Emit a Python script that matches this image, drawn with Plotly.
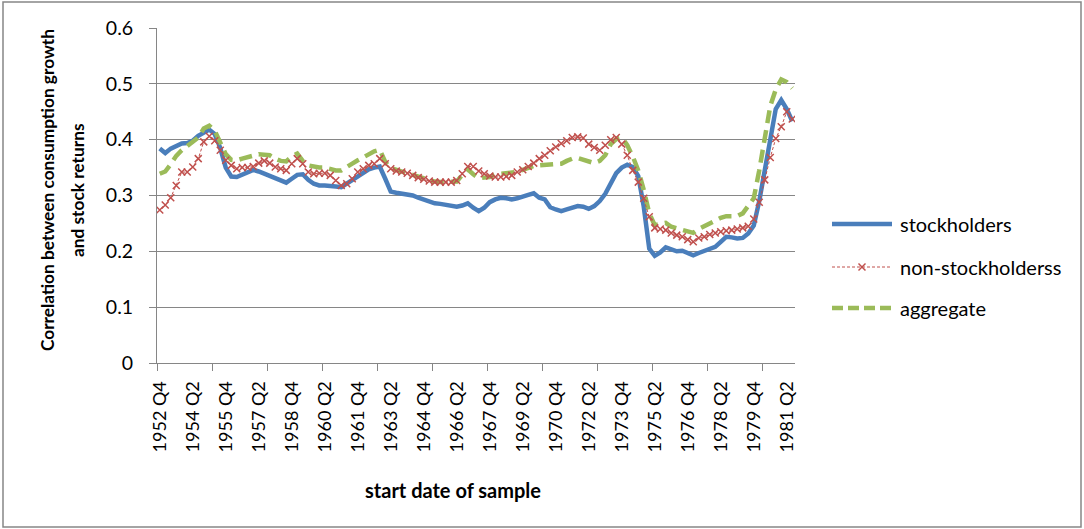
import plotly.graph_objects as go

# Quarterly start dates of the rolling samples: 1952 Q4 .. 1981 Q3
quarters = []
yr, qt = 1952, 4
for _ in range(116):
    quarters.append(f"{yr} Q{qt}")
    qt += 1
    if qt > 4:
        qt = 1
        yr += 1

stockholders = [
    0.384, 0.376, 0.384, 0.389, 0.393, 0.394, 0.398, 0.407, 0.413, 0.418,
    0.410, 0.385, 0.350, 0.334, 0.333, 0.338, 0.343, 0.346, 0.343, 0.339,
    0.334, 0.331, 0.327, 0.323, 0.330, 0.337, 0.338, 0.328, 0.321, 0.318,
    0.318, 0.318, 0.316, 0.315, 0.321, 0.328, 0.334, 0.340, 0.347, 0.350,
    0.352, 0.330, 0.307, 0.305, 0.304, 0.302, 0.300, 0.296, 0.292, 0.289,
    0.286, 0.285, 0.283, 0.281, 0.280, 0.282, 0.286, 0.278, 0.272, 0.278,
    0.288, 0.293, 0.296, 0.295, 0.293, 0.295, 0.297, 0.301, 0.304, 0.296,
    0.293, 0.279, 0.275, 0.272, 0.275, 0.279, 0.281, 0.280, 0.276, 0.281,
    0.290, 0.303, 0.322, 0.340, 0.350, 0.355, 0.351, 0.335, 0.280, 0.205,
    0.192, 0.198, 0.207, 0.203, 0.200, 0.201, 0.197, 0.193, 0.197, 0.200,
    0.203, 0.208, 0.217, 0.226, 0.225, 0.223, 0.224, 0.232, 0.246, 0.290,
    0.345, 0.405, 0.455, 0.471, 0.455, 0.433,
]

non_stockholders = [
    0.274, 0.283, 0.296, 0.318, 0.342, 0.342, 0.351, 0.366, 0.396, 0.406,
    0.398, 0.381, 0.363, 0.354, 0.348, 0.350, 0.350, 0.352, 0.358, 0.362,
    0.358, 0.351, 0.348, 0.345, 0.357, 0.366, 0.357, 0.342, 0.339, 0.340,
    0.340, 0.336, 0.327, 0.318, 0.321, 0.330, 0.342, 0.348, 0.354, 0.357,
    0.366, 0.357, 0.348, 0.344, 0.342, 0.340, 0.336, 0.332, 0.329, 0.326,
    0.324, 0.324, 0.324, 0.324, 0.327, 0.339, 0.352, 0.352, 0.344, 0.339,
    0.335, 0.333, 0.333, 0.334, 0.336, 0.342, 0.346, 0.352, 0.358, 0.366,
    0.372, 0.380, 0.387, 0.393, 0.398, 0.404, 0.405, 0.403, 0.392, 0.386,
    0.381, 0.390, 0.400, 0.404, 0.392, 0.372, 0.345, 0.324, 0.295, 0.262,
    0.242, 0.240, 0.238, 0.233, 0.229, 0.226, 0.221, 0.217, 0.224, 0.226,
    0.230, 0.233, 0.235, 0.237, 0.238, 0.240, 0.242, 0.245, 0.258, 0.288,
    0.328, 0.368, 0.402, 0.423, 0.450, 0.437,
]

aggregate = [
    0.339, 0.343, 0.356, 0.371, 0.381, 0.388, 0.395, 0.404, 0.420, 0.425,
    0.416, 0.395, 0.374, 0.364, 0.363, 0.366, 0.369, 0.372, 0.374, 0.373,
    0.372, 0.366, 0.362, 0.361, 0.370, 0.375, 0.362, 0.354, 0.351, 0.350,
    0.350, 0.347, 0.345, 0.345, 0.350, 0.357, 0.363, 0.369, 0.374, 0.379,
    0.382, 0.360, 0.349, 0.346, 0.343, 0.341, 0.338, 0.334, 0.330, 0.327,
    0.325, 0.324, 0.324, 0.324, 0.325, 0.337, 0.347, 0.338, 0.331, 0.332,
    0.333, 0.338, 0.339, 0.338, 0.340, 0.342, 0.346, 0.350, 0.353, 0.354,
    0.355, 0.355, 0.356, 0.357, 0.362, 0.366, 0.367, 0.364, 0.361, 0.358,
    0.362, 0.372, 0.392, 0.401, 0.404, 0.390, 0.370, 0.345, 0.310, 0.268,
    0.247, 0.250, 0.251, 0.244, 0.241, 0.238, 0.235, 0.233, 0.240, 0.245,
    0.250, 0.256, 0.260, 0.263, 0.264, 0.263, 0.268, 0.282, 0.295, 0.345,
    0.405, 0.460, 0.490, 0.508, 0.503, 0.492,
]

series_names = ["stockholders", "non-stockholderss", "aggregate"]
y_ticks = [0, 0.1, 0.2, 0.3, 0.4, 0.5, 0.6]

BLUE = "#4A7EBB"
RED = "#C0504D"
GREEN = "#9BBB59"
GRID = "#868686"
FONT = "Lato"

x_idx = list(range(len(quarters)))
label_idx = x_idx[::6]

# Canvas / plot-area geometry (pixels)
W, H = 1084, 529
L, R, T, B = 157, 289, 28, 166
PW, PH = W - L - R, H - T - B


def px(x):
    return (x - L) / PW


def py(y):
    return (H - B - y) / PH


fig = go.Figure()
fig.add_trace(go.Scatter(
    x=x_idx, y=stockholders, name=series_names[0], mode="lines",
    line=dict(color=BLUE, width=4.5), showlegend=False))
fig.add_trace(go.Scatter(
    x=x_idx, y=aggregate, name=series_names[2], mode="lines",
    line=dict(color=GREEN, width=4.5, dash="13px,7px"), showlegend=False))
fig.add_trace(go.Scatter(
    x=x_idx, y=non_stockholders, name=series_names[1], mode="lines+markers",
    line=dict(color=RED, width=1, dash="3px,2px"),
    marker=dict(symbol="x-thin", size=7, line=dict(color=RED, width=1.5)),
    showlegend=False))

fig.update_xaxes(
    range=[-0.5, len(quarters) - 0.5],
    tickmode="array", tickvals=label_idx, ticktext=[quarters[i] for i in label_idx],
    tickangle=-90, ticks="outside", ticklen=7, tickcolor="rgba(0,0,0,0)",
    ticklabelstandoff=3,
    showgrid=False, zeroline=False, showline=True, linecolor=GRID, linewidth=1,
    minor=dict(tickmode="linear", tick0=-0.5, dtick=10, ticks="outside",
               ticklen=7, tickcolor=GRID, tickwidth=1, showgrid=False),
    tickfont=dict(family=FONT, size=18, color="#000000"),
)
fig.update_yaxes(
    range=[0, 0.6], tickmode="array", tickvals=y_ticks,
    ticktext=[f"{v:g}" for v in y_ticks],
    ticks="outside", ticklen=7, tickcolor=GRID, tickwidth=1,
    ticklabelstandoff=12,
    showgrid=True, gridcolor=GRID, gridwidth=1, zeroline=False,
    showline=True, linecolor=GRID, linewidth=1,
    tickfont=dict(family=FONT, size=19.5, color="#000000"),
)

shapes = [
    # chart frame
    dict(type="rect", xref="paper", yref="paper",
         x0=px(3), x1=px(1081), y0=py(527), y1=py(2),
         line=dict(color=GRID, width=1.5), fillcolor="rgba(0,0,0,0)", layer="below"),
]
title_font = dict(family=FONT, size=17.3, color="#000000")
annotations = [
    dict(text="<b>Correlation between consumption growth</b>", xref="paper", yref="paper",
         x=px(47), y=py(190), xanchor="center", yanchor="middle",
         textangle=-90, showarrow=False, font=title_font),
    dict(text="<b>and stock returns</b>", xref="paper", yref="paper",
         x=px(77), y=py(190), xanchor="center", yanchor="middle",
         textangle=-90, showarrow=False, font=title_font),
    dict(text="<b>start date of sample</b>", xref="paper", yref="paper",
         x=px(453), y=py(490), xanchor="center", yanchor="middle",
         showarrow=False, font=dict(family=FONT, size=20, color="#000000")),
]

# Legend drawn as a column of line samples with labels
leg_x0, leg_x1, leg_tx = 832, 892, 898
leg_rows = [224, 267, 308]
leg_styles = [
    dict(color=BLUE, width=4.5),
    dict(color=RED, width=1, dash="3px,2px"),
    dict(color=GREEN, width=4.5, dash="11px,5px"),
]
for name, yy, st in zip(series_names, leg_rows, leg_styles):
    shapes.append(dict(type="line", xref="paper", yref="paper",
                       x0=px(leg_x0), x1=px(leg_x1), y0=py(yy), y1=py(yy), line=st))
    annotations.append(dict(text=name, xref="paper", yref="paper",
                            x=px(leg_tx), y=py(yy), xanchor="left", yanchor="middle",
                            showarrow=False,
                            font=dict(family=FONT, size=20, color="#000000")))
# cross marker on the red legend sample
cx, cy, d = (leg_x0 + leg_x1) / 2, leg_rows[1], 3.5
for dy in (-d, d):
    shapes.append(dict(type="line", xref="paper", yref="paper",
                       x0=px(cx - d), x1=px(cx + d), y0=py(cy - dy), y1=py(cy + dy),
                       line=dict(color=RED, width=1.5)))

fig.update_layout(
    width=W, height=H,
    margin=dict(l=L, r=R, t=T, b=B, pad=0),
    paper_bgcolor="white", plot_bgcolor="white",
    showlegend=False,
    shapes=shapes, annotations=annotations,
    font=dict(family=FONT, color="#000000"),
)

fig.write_html("out.html")
